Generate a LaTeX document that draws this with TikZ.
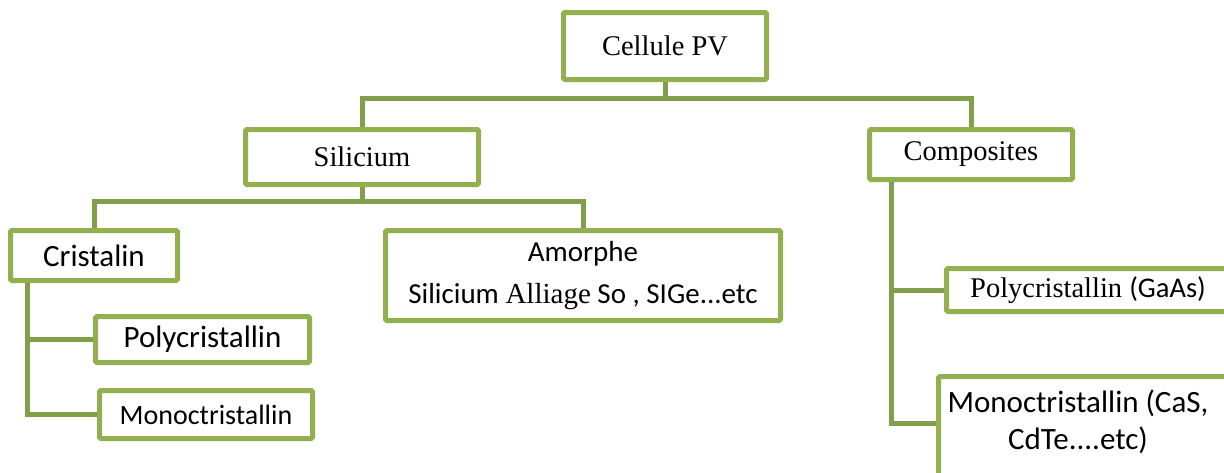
\documentclass[tikz,border=0pt]{standalone}
\usepackage{fontspec}
\setmainfont{Liberation Serif}
\newfontfamily\calfont{Carlito}
\definecolor{boxgreen}{HTML}{92B050}
\definecolor{linegreen}{HTML}{819E4B}
\tikzset{
  box/.style={draw=boxgreen, line width=5pt, rounded corners=1.5pt, fill=white, inner sep=0pt, align=center},
  serif/.style={font=\fontsize{28.5}{34}\selectfont},
  sans/.style={font=\calfont\fontsize{30}{37}\selectfont},
  conn/.style={draw=linegreen, line width=5pt}
}
\begin{document}
\begin{tikzpicture}[x=1pt,y=-1pt]
\useasboundingbox (0,0) rectangle (1224,472);
\clip (0,0) rectangle (1224,472);
% connectors
\coordinate (bus1) at (0,98);
\coordinate (bus2) at (0,201);
\coordinate (lv) at (27,0);
\coordinate (rv) at (891,0);
% boxes
\node[box, serif, minimum width=203pt, minimum height=67pt] (cell) at (665,46) {Cellule PV};
\node[box, serif, minimum width=233pt, minimum height=55pt] (sil) at (362,157) {Silicium};
\node[box, serif, minimum width=203pt, minimum height=50pt] (comp) at (971,154.5) {Composites};
\node[box, sans, font=\calfont\fontsize{31}{37}\selectfont, minimum width=167pt, minimum height=50pt] (cris) at (94,255.5) {Cristalin};
\node[box, font=\calfont\fontsize{29}{42}\selectfont, minimum width=395pt, minimum height=90pt] (amor) at (583,275.5) {Amorphe\\Silicium {\rmfamily Alliage} So , SIGe...etc};
\node[box, font=\calfont\fontsize{31}{37}\selectfont, minimum width=214pt, minimum height=46pt] (poly1) at (202.5,339.5) {Polycristallin};
\node[box, font=\calfont\fontsize{28}{37}\selectfont, minimum width=213pt, minimum height=48pt] (mono1) at (206,414.5) {Monoctristallin};
\node[box, minimum width=283pt, minimum height=43pt] (poly2) at (1088,290) {\fontsize{28.5}{34}\selectfont Polycristallin {\calfont (GaAs)}};
\node[box, font=\calfont\fontsize{31}{37}\selectfont, minimum width=291pt, minimum height=101pt] (mono2) at (1084,427) {};
\node[font=\calfont\fontsize{31}{37}\selectfont, align=center, inner sep=0pt] (mono2t) at (1078,422) {Monoctristallin (CaS,\\CdTe....etc)};
% lines
\draw[conn] (cell.south) -- (cell.south |- bus1);
\draw[conn] (sil.north) |- (bus1 -| comp.north) -- (comp.north);
\draw[conn] (sil.south) -- (sil.south |- bus2);
\draw[conn] (cris.north) |- (bus2 -| amor.north) -- (amor.north);
\draw[conn] (cris.south -| lv) |- (poly1.west);
\draw[conn] (cris.south -| lv) |- (mono1.west);
\draw[conn] (comp.south -| rv) |- (poly2.west);
\draw[conn] (comp.south -| rv) |- ([yshift=4pt]mono2.west);
\end{tikzpicture}
\end{document}
